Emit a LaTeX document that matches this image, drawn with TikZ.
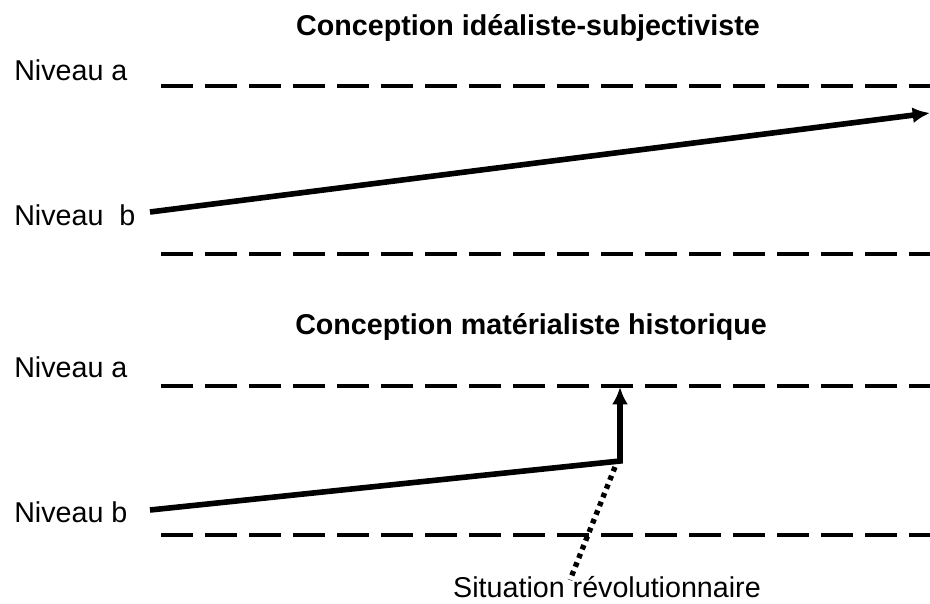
\documentclass[tikz,border=0pt]{standalone}
\usepackage{fontspec}
\setmainfont{Liberation Sans}
\usetikzlibrary{arrows.meta}
\tikzset{>={Latex[length=13pt,width=12pt]}}
\tikzset{
    niveau/.style={dash pattern=on 24pt off 9pt, line width=3pt},
    levee/.style={->, line width=4.2pt},
    label/.style={anchor=base west, inner sep=0pt, font=\fontsize{21.5}{24}\selectfont},
    titre/.style={anchor=base, inner sep=0pt, font=\fontsize{21.5}{24}\selectfont\bfseries}
}

\begin{document}
\begin{tikzpicture}[x=0.75pt,y=-0.75pt]
            \useasboundingbox (0,0) rectangle (930,603);
            % conception idealiste
            \node[titre] (t1) at (528,35) {Conception idéaliste-subjectiviste};
            \node[label] (a1) at (14,80) {Niveau a};
            \node[label] (b1) at (14,225) {Niveau\ \ b};
            \coordinate (a1g) at (161,86);
            \coordinate (a1d) at (930,86);
            \coordinate (b1g) at (161,254);
            \coordinate (b1d) at (930,254);
            \draw[niveau] (a1g) -- (a1d);
            \draw[niveau] (b1g) -- (b1d);
            \coordinate (p1) at (150,212);
            \coordinate (q1) at (930,113);
            \draw[levee] (p1) -- (q1);
            % conception materialiste
            \node[titre] (t2) at (531,334) {Conception matérialiste historique};
            \node[label] (a2) at (14,377) {Niveau a};
            \node[label] (b2) at (14,522) {Niveau b};
            \coordinate (a2g) at (161,386);
            \coordinate (a2d) at (930,386);
            \coordinate (b2g) at (161,535);
            \coordinate (b2d) at (930,535);
            \draw[niveau] (a2g) -- (a2d);
            \draw[niveau] (b2g) -- (b2d);
            \coordinate (p2) at (150,510);
            \coordinate (r2) at (620,461);
            \coordinate (q2) at (620,387);
            \draw[levee] (p2) -- (r2) -- (q2);
            \node[anchor=base, inner sep=0pt, font=\fontsize{21.5}{24}\selectfont] (sr) at (607,597) {Situation révolutionnaire};
            \coordinate (s2) at (615,467);
            \coordinate (s3) at (570,580);
            \draw[line width=4pt, dash pattern=on 3.5pt off 3.5pt] (s2) -- (s3);
        \end{tikzpicture}
\end{document}
